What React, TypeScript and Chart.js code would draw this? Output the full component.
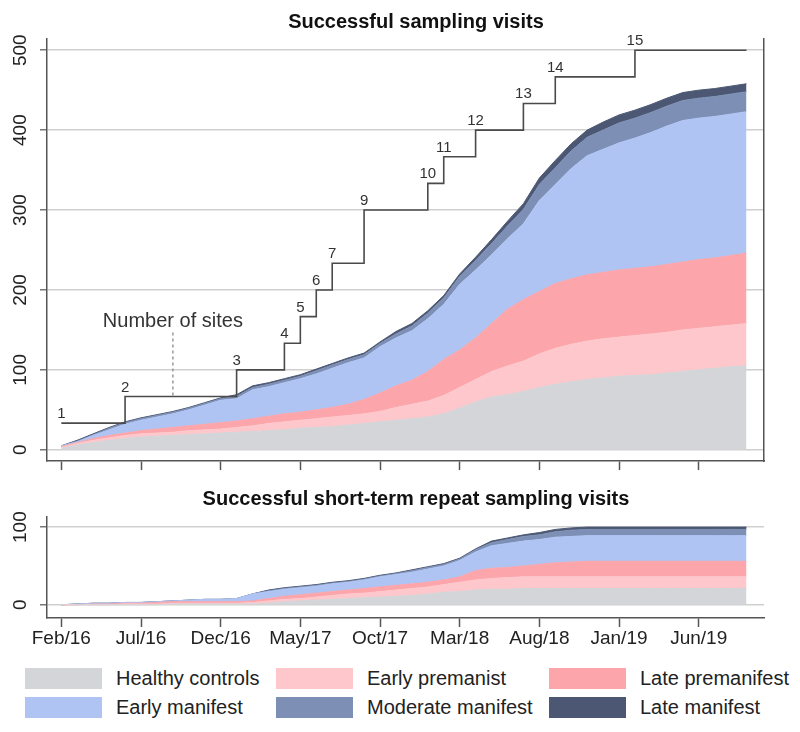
import React, { useEffect, useRef } from 'react';
import { Chart, registerables } from 'chart.js';

Chart.register(...registerables);

const FONT = '"Liberation Sans", Arial, Helvetica, sans-serif';
Chart.defaults.font.family = FONT;

// ---------- categories / ticks ----------
const months = Array.from({ length: 44 }, (_, i) => i); // 0 = Feb/16 ... 43 = Sep/19
const tickMonths = [0, 5, 10, 15, 20, 25, 30, 35, 40];
const tickLabels = ['Feb/16', 'Jul/16', 'Dec/16', 'May/17', 'Oct/17', 'Mar/18', 'Aug/18', 'Jan/19', 'Jun/19'];
const mainYTicks = [0, 100, 200, 300, 400, 500];
const repeatYTicks = [0, 100];

const seriesNames = ['Healthy controls', 'Early premanist', 'Late premanifest', 'Early manifest', 'Moderate manifest', 'Late manifest'];
const seriesColors = ['#d3d5d8', '#fdc7cb', '#fca5ab', '#afc4f3', '#7d8fb4', '#4c5873'];

// ---------- successful sampling visits (cumulative per group) ----------
const healthyControls = [2, 6, 9, 12, 14, 16, 17, 18, 19, 20, 21, 22, 23, 24, 25, 27, 28, 29, 31, 33, 35, 37, 39, 41, 45, 52, 60, 66, 69, 73, 78, 82, 85, 88, 90, 92, 93, 94, 96, 98, 100, 102, 104, 105];
const earlyPremanifest = [1, 2, 3, 3, 4, 4, 4, 4, 5, 5, 5, 6, 7, 9, 10, 10, 11, 12, 12, 12, 13, 16, 18, 20, 23, 26, 28, 32, 36, 38, 42, 45, 47, 48, 49, 49, 50, 51, 51, 52, 52, 52, 52, 53];
const latePremanifest = [1, 1, 2, 3, 3, 4, 5, 6, 6, 7, 8, 8, 9, 9, 10, 10, 11, 12, 14, 18, 23, 27, 30, 37, 45, 47, 52, 60, 71, 77, 78, 81, 82, 83, 83, 84, 84, 84, 85, 85, 86, 86, 87, 88];
const earlyManifest = [1, 1, 4, 7, 11, 13, 15, 17, 20, 24, 28, 28, 36, 37, 39, 42, 45, 49, 52, 52, 58, 60, 62, 66, 69, 82, 85, 86, 88, 95, 114, 124, 138, 149, 154, 159, 163, 168, 173, 177, 177, 177, 177, 177];
const moderateManifest = [0, 1, 1, 2, 2, 2, 2, 2, 2, 2, 2, 3, 3, 3, 3, 3, 4, 4, 4, 4, 4, 5, 6, 7, 8, 10, 12, 14, 16, 18, 20, 21, 22, 23, 24, 25, 25, 25, 25, 25, 25, 25, 25, 25];
const lateManifest = [0, 1, 1, 1, 1, 1, 1, 1, 1, 1, 1, 2, 2, 2, 2, 2, 2, 2, 2, 2, 2, 3, 3, 3, 3, 3, 4, 5, 6, 7, 8, 9, 9, 9, 10, 10, 10, 10, 10, 10, 10, 10, 10, 10];

// ---------- short-term repeat sampling visits ----------
const repeatHealthy = [0, 0, 0, 0, 0, 0, 0, 1, 1, 1, 1, 1, 1, 2, 4, 5, 6, 7, 8, 9, 10, 11, 12, 14, 16, 17, 19, 20, 20, 21, 21, 21, 21, 21, 21, 21, 21, 21, 21, 21, 21, 21, 21, 21];
const repeatEarlyPre = [0, 0, 0, 0, 1, 1, 1, 1, 1, 1, 1, 1, 2, 3, 3, 3, 4, 5, 6, 6, 7, 8, 9, 9, 10, 12, 13, 14, 15, 15, 15, 15, 15, 15, 15, 15, 15, 15, 15, 15, 15, 15, 15, 15];
const repeatLatePre = [0, 0, 1, 1, 1, 1, 2, 2, 2, 2, 2, 2, 2, 3, 4, 5, 5, 5, 5, 6, 6, 6, 6, 6, 6, 7, 12, 13, 13, 14, 16, 18, 19, 20, 20, 20, 20, 20, 20, 20, 20, 20, 20, 20];
const repeatEarlyMan = [0, 1, 1, 1, 1, 1, 1, 1, 2, 3, 3, 4, 9, 9, 9, 9, 9, 10, 10, 11, 13, 14, 15, 17, 18, 21, 24, 29, 31, 32, 32, 33, 33, 33, 33, 33, 33, 33, 33, 33, 33, 33, 33, 33];
const repeatModerate = [0, 0, 0, 0, 0, 0, 0, 0, 0, 0, 0, 0, 0, 1, 1, 1, 1, 1, 1, 1, 1, 1, 2, 2, 2, 2, 3, 4, 5, 6, 6, 7, 8, 8, 8, 8, 8, 8, 8, 8, 8, 8, 8, 8];
const repeatLate = [0, 0, 0, 0, 0, 0, 0, 0, 0, 0, 0, 0, 0, 1, 1, 1, 1, 1, 1, 1, 1, 1, 1, 1, 1, 1, 1, 2, 2, 2, 3, 3, 3, 3, 3, 3, 3, 3, 3, 3, 3, 3, 3, 3];

// ---------- number of sites (step line) ----------
const siteMonths = [0, 4, 11, 14, 15, 16, 17, 19, 23, 24, 26, 29, 31, 36, 43];
const siteCounts = [1, 2, 3, 4, 5, 6, 7, 9, 10, 11, 12, 13, 14, 15, 15];
const noteText = 'Number of sites';
const noteMonth = 7;
const noteTextLevel = 4.8;
const noteLineTop = 4.4;
const noteLineBottom = 2;

const mainSeries = [healthyControls, earlyPremanifest, latePremanifest, earlyManifest, moderateManifest, lateManifest];
const repeatSeries = [repeatHealthy, repeatEarlyPre, repeatLatePre, repeatEarlyMan, repeatModerate, repeatLate];

const MAIN_MIN = -14;
const MAIN_MAX = 514;
const SITE_SCALE = 500 / 15;

const rotatedYLabels = {
  id: 'rotatedYLabels',
  afterDraw(chart: any, _args: any, opts: any) {
    const s = chart.scales.y;
    const ctx = chart.ctx;
    ctx.save();
    ctx.font = `19px ${FONT}`;
    ctx.fillStyle = '#222';
    ctx.textAlign = 'center';
    ctx.textBaseline = 'middle';
    for (const t of s.ticks) {
      const y = s.getPixelForValue(t.value);
      ctx.save();
      ctx.translate(opts.x, y);
      ctx.rotate(-Math.PI / 2);
      ctx.fillText(String(t.value), 0, 0);
      ctx.restore();
    }
    ctx.restore();
  },
};

const siteAnnotations = {
  id: 'siteAnnotations',
  afterDatasetsDraw(chart: any) {
    const xs = chart.scales.x;
    const ys = chart.scales.ySites;
    const ctx = chart.ctx;
    ctx.save();
    ctx.fillStyle = '#333';
    ctx.textAlign = 'center';
    ctx.font = `15px ${FONT}`;
    ctx.textBaseline = 'alphabetic';
    for (let i = 0; i < siteMonths.length - 1; i++) {
      ctx.fillText(String(siteCounts[i]), xs.getPixelForValue(siteMonths[i]), ys.getPixelForValue(siteCounts[i]) - 5);
    }
    const nx = xs.getPixelForValue(noteMonth);
    ctx.strokeStyle = '#999';
    ctx.lineWidth = 1.5;
    ctx.setLineDash([3, 3]);
    ctx.beginPath();
    ctx.moveTo(nx, ys.getPixelForValue(noteLineTop));
    ctx.lineTo(nx, ys.getPixelForValue(noteLineBottom));
    ctx.stroke();
    ctx.setLineDash([]);
    ctx.font = `20px ${FONT}`;
    ctx.textBaseline = 'middle';
    ctx.fillStyle = '#333';
    ctx.fillText(noteText, nx, ys.getPixelForValue(noteTextLevel));
    ctx.restore();
  },
};

function areaDatasets(series: number[][]) {
  return series.map((d, i) => ({
    label: seriesNames[i],
    data: d,
    backgroundColor: seriesColors[i],
    borderColor: seriesColors[i],
    borderWidth: 1,
    pointRadius: 0,
    fill: i === 0 ? 'origin' : '-1',
    stack: 'visits',
    yAxisID: 'y',
    tension: 0,
  }));
}

const xAxis = (showLabels: boolean) => ({
  type: 'linear',
  min: -0.9,
  max: 44.1,
  afterBuildTicks: (s: any) => {
    s.ticks = tickMonths.map((v) => ({ value: v }));
  },
  ticks: {
    display: showLabels,
    autoSkip: false,
    maxRotation: 0,
    padding: 0,
    color: '#222',
    font: { size: 19 },
    callback: (v: any) => tickLabels[tickMonths.indexOf(Number(v))] ?? '',
  },
  grid: { drawOnChartArea: false, drawTicks: true, tickLength: 9, tickColor: '#555', tickWidth: 1.5 },
  border: { color: '#555', width: 1.5 },
  afterFit: (s: any) => {
    s.height = showLabels ? 40 : 17;
  },
});

const yAxis = (min: number, max: number, ticks: number[]) => ({
  stacked: true,
  min,
  max,
  afterBuildTicks: (s: any) => {
    s.ticks = ticks.map((v) => ({ value: v }));
  },
  ticks: { display: false },
  grid: { color: '#cfcfcf', lineWidth: 1.5, tickLength: 7, tickColor: '#777', tickWidth: 1.5 },
  border: { color: '#555', width: 1.5 },
  afterFit: (s: any) => {
    s.width = 7;
  },
});

function TopChart() {
  const ref = useRef<HTMLCanvasElement | null>(null);
  useEffect(() => {
    if (!ref.current) return;
    const chart = new Chart(ref.current, {
      type: 'line',
      data: {
        labels: months,
        datasets: [
          ...areaDatasets(mainSeries),
          {
            label: noteText,
            data: siteMonths.map((m, i) => ({ x: m, y: siteCounts[i] })),
            yAxisID: 'ySites',
            stack: 'sites',
            stepped: 'before',
            borderColor: '#4a4a4a',
            borderWidth: 1.6,
            pointRadius: 0,
            fill: false,
            order: -1,
          },
        ],
      } as any,
      options: {
        responsive: false,
        animation: false,
        layout: { padding: { left: 32, right: 0, top: 0, bottom: 0 } },
        plugins: {
          legend: { display: false },
          tooltip: { enabled: false },
          title: {
            display: true,
            text: 'Successful sampling visits',
            color: '#111',
            font: { size: 20, weight: 'bold' },
            padding: { top: 2, bottom: 5 },
          },
          rotatedYLabels: { x: 13 },
        } as any,
        scales: {
          x: xAxis(false),
          y: yAxis(MAIN_MIN, MAIN_MAX, mainYTicks),
          ySites: {
            position: 'right',
            min: MAIN_MIN / SITE_SCALE,
            max: MAIN_MAX / SITE_SCALE,
            ticks: { display: false },
            grid: { drawOnChartArea: false, drawTicks: false },
            border: { color: '#555', width: 1.5 },
            afterFit: (s: any) => {
              s.width = 28;
            },
          },
        } as any,
      },
      plugins: [rotatedYLabels, siteAnnotations],
    });
    return () => chart.destroy();
  }, []);
  return <canvas ref={ref} width={784} height={470} style={{ display: 'block' }} />;
}

function RepeatChart() {
  const ref = useRef<HTMLCanvasElement | null>(null);
  useEffect(() => {
    if (!ref.current) return;
    const chart = new Chart(ref.current, {
      type: 'line',
      data: { labels: months, datasets: areaDatasets(repeatSeries) } as any,
      options: {
        responsive: false,
        animation: false,
        layout: { padding: { left: 32, right: 0, top: 0, bottom: 0 } },
        plugins: {
          legend: { display: false },
          tooltip: { enabled: false },
          title: {
            display: true,
            text: 'Successful short-term repeat sampling visits',
            color: '#111',
            font: { size: 20, weight: 'bold' },
            padding: { top: 9, bottom: 6 },
          },
          rotatedYLabels: { x: 13 },
        } as any,
        scales: {
          x: xAxis(true),
          y: yAxis(-17, 113, repeatYTicks),
          yRight: {
            position: 'right',
            display: true,
            ticks: { display: false },
            grid: { display: false, drawTicks: false },
            border: { display: false },
            afterFit: (s: any) => {
              s.width = 28;
            },
          },
        } as any,
      },
      plugins: [rotatedYLabels],
    });
    return () => chart.destroy();
  }, []);
  return <canvas ref={ref} width={784} height={180} style={{ display: 'block' }} />;
}

function Legend() {
  return (
    <div
      style={{
        display: 'grid',
        gridTemplateColumns: '251px 273px 250px',
        rowGap: 8,
        marginLeft: 17,
        marginTop: 10,
        fontFamily: FONT,
        fontSize: 20,
        color: '#222',
      }}
    >
      {seriesNames.map((n, i) => (
        <div key={n} style={{ display: 'flex', alignItems: 'center', height: 21, whiteSpace: 'nowrap' }}>
          <span style={{ display: 'inline-block', width: 77, height: 21, background: seriesColors[i], marginRight: 14, flex: 'none' }} />
          <span>{n}</span>
        </div>
      ))}
    </div>
  );
}

export default function App() {
  return (
    <div style={{ width: 784 }}>
      <TopChart />
      <RepeatChart />
      <Legend />
    </div>
  );
}
